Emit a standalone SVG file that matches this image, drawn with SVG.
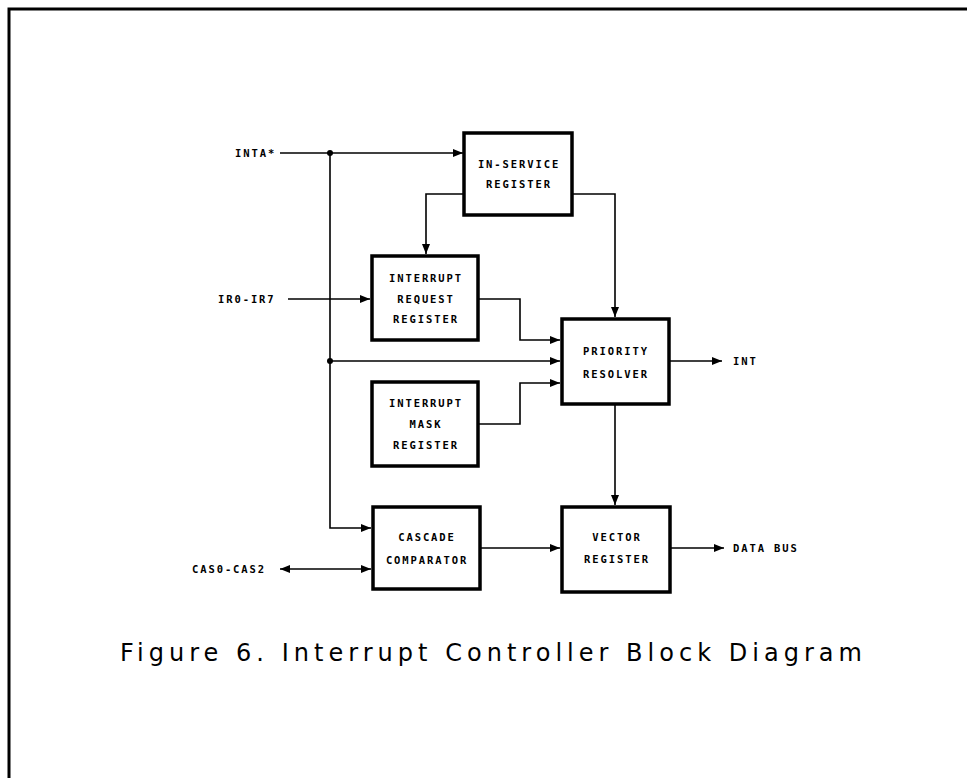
<svg xmlns="http://www.w3.org/2000/svg" width="967" height="778" viewBox="0 0 967 778">
<defs>
<style>
.box{fill:#fff;stroke:#000;stroke-width:3.5}
.ln{fill:none;stroke:#000;stroke-width:1.6}
.t{font-family:"DejaVu Sans Mono","Liberation Mono",monospace;font-weight:bold;font-size:10.5px;letter-spacing:1.9px;fill:#000}
.c{text-anchor:middle}
.cap{font-family:"DejaVu Sans","Liberation Sans",sans-serif;font-size:24px;fill:#000}
</style>
<marker id="ar" viewBox="0 0 10 8" refX="10" refY="4" markerWidth="10" markerHeight="8" markerUnits="userSpaceOnUse" orient="auto-start-reverse">
<path d="M0,0 L10,4 L0,8 Z" fill="#000"/>
</marker>
</defs>
<rect width="967" height="778" fill="#fff"/>
<g id="frame">
<path d="M9,778 V9 H967" fill="none" stroke="#000" stroke-width="3"/>
</g>
<g id="connectors">
<path class="ln" d="M280,153 H463" marker-end="url(#ar)"/>
<path class="ln" d="M330,153 V528 H371" marker-end="url(#ar)"/>
<path class="ln" d="M463,194 H426 V254" marker-end="url(#ar)"/>
<path class="ln" d="M572,194 H615 V317" marker-end="url(#ar)"/>
<path class="ln" d="M288,299 H370" marker-end="url(#ar)"/>
<path class="ln" d="M478,299 H520 V340 H560" marker-end="url(#ar)"/>
<path class="ln" d="M330,361 H560" marker-end="url(#ar)"/>
<path class="ln" d="M478,424 H520 V383 H560" marker-end="url(#ar)"/>
<path class="ln" d="M669,361 H722" marker-end="url(#ar)"/>
<path class="ln" d="M615,404 V505" marker-end="url(#ar)"/>
<path class="ln" d="M480,548 H560" marker-end="url(#ar)"/>
<path class="ln" d="M670,548 H724" marker-end="url(#ar)"/>
<path class="ln" d="M280,569 H371" marker-start="url(#ar)" marker-end="url(#ar)"/>
<circle cx="330" cy="153" r="3"/>
<circle cx="330" cy="361" r="3"/>
</g>
<g id="isr">
<rect class="box" x="464" y="133" width="108" height="82"/>
<text class="t c" x="519" y="168">IN-SERVICE</text>
<text class="t c" x="519" y="188">REGISTER</text>
</g>
<g id="irr">
<rect class="box" x="372" y="256" width="106" height="84"/>
<text class="t c" x="426" y="282">INTERRUPT</text>
<text class="t c" x="426" y="303">REQUEST</text>
<text class="t c" x="426" y="323">REGISTER</text>
</g>
<g id="imr">
<rect class="box" x="372" y="382" width="106" height="84"/>
<text class="t c" x="426" y="407">INTERRUPT</text>
<text class="t c" x="426" y="428">MASK</text>
<text class="t c" x="426" y="449">REGISTER</text>
</g>
<g id="pr">
<rect class="box" x="562" y="319" width="107" height="85"/>
<text class="t c" x="616" y="355">PRIORITY</text>
<text class="t c" x="616" y="378">RESOLVER</text>
</g>
<g id="cc">
<rect class="box" x="373" y="507" width="107" height="82"/>
<text class="t c" x="427" y="541">CASCADE</text>
<text class="t c" x="427" y="564">COMPARATOR</text>
</g>
<g id="vr">
<rect class="box" x="562" y="507" width="108" height="85"/>
<text class="t c" x="617" y="541">VECTOR</text>
<text class="t c" x="617" y="563">REGISTER</text>
</g>
<g id="labels">
<text class="t" x="235" y="157">INTA*</text>
<text class="t" x="218" y="303">IR0-IR7</text>
<text class="t" x="733" y="365">INT</text>
<text class="t" x="733" y="552">DATA BUS</text>
<text class="t" x="192" y="573">CAS0-CAS2</text>
</g>
<g id="caption">
<text class="cap" x="120" y="661" textLength="742" lengthAdjust="spacing">Figure 6. Interrupt Controller Block Diagram</text>
</g>
</svg>
